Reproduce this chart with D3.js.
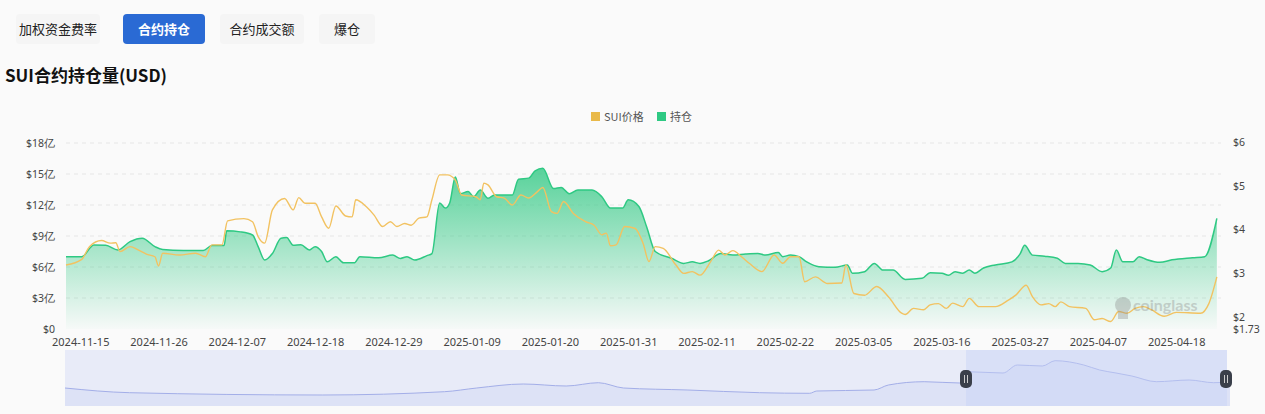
<!DOCTYPE html>
<html><head><meta charset="utf-8">
<script src="https://cdn.jsdelivr.net/npm/d3@7/dist/d3.min.js"></script>
<style>body{margin:0;background:#fafafa;font-family:"Noto Sans CJK SC","Noto Sans",sans-serif;}</style>
</head><body><svg id="c" width="1265" height="414"></svg>
<script>
const startDate = new Date(2024,10,13);
const tabs = ["加权资金费率","合约持仓","合约成交额","爆仓"];
const tickDates = ["2024-11-15","2024-11-26","2024-12-07","2024-12-18","2024-12-29","2025-01-09","2025-01-20","2025-01-31","2025-02-11","2025-02-22","2025-03-05","2025-03-16","2025-03-27","2025-04-07","2025-04-18"];
const leftTicks = [0,3,6,9,12,15,18];
const rightTicks = [1.73,2,3,4,5,6];
// open interest (亿 USD): day offset from start, value
const oiDays = [0,2.2,3.9,5.6,7.3,9,10.7,12.5,13.6,16.5,19.3,20.5,22.2,22.6,24.5,26.2,27,27.9,29,30.2,31,31.9,33,34.2,35,35.9,36.7,37.9,39,40.5,41.3,43.9,45.9,47,47.9,49,50.7,51.4,52.5,53.3,53.9,54.7,55.4,56.5,57.3,58.2,59.3,60.2,62.7,63.6,65,65.9,67,68.5,69.6,70.7,71.9,73.9,75.3,76.5,78.2,79,80.5,81.6,82.8,85.1,86.8,88,89.1,90.3,92,93.7,95.5,97.2,98.3,100.1,100.7,101.8,103,104.1,105.8,108.1,109.8,110.5,112.2,113.6,114.8,116.2,117.9,120.3,121.4,123.1,124,124.9,126,126.9,127.7,128.9,130.6,132.9,134.1,134.7,135.8,137.5,139.3,140.4,142.2,143.9,145.6,146.8,147.6,148.5,149.9,150.8,151.9,153.7,155.4,158.3,160,161.7];
const oiValues = [7.0,7.0,8.13,8.1,7.65,8.45,8.78,7.97,7.7,7.6,7.6,8.07,8.07,9.5,9.4,9.1,7.97,6.68,7.3,8.78,8.85,8.1,8.15,7.65,7.97,7.5,6.5,7.0,6.4,6.4,7.0,6.9,7.15,6.83,7.0,6.68,7.1,7.3,12.2,11.7,12.2,14.7,13.1,13.3,12.8,13.45,12.65,12.97,12.97,14.5,14.6,15.3,15.55,13.6,13.7,13.1,13.45,13.45,12.8,11.7,11.7,12.5,11.85,9.9,7.5,6.85,6.35,6.5,6.35,6.6,7.3,7.15,7.25,7.3,7.15,7.4,7.0,7.15,7.0,6.5,6.03,5.97,6.2,5.4,5.55,6.35,5.7,5.7,4.8,4.9,5.45,5.4,5.2,5.55,5.4,5.7,5.4,5.9,6.2,6.5,7.3,8.1,7.15,7.05,6.85,6.35,6.35,6.2,5.55,5.9,7.65,6.5,6.5,7.0,6.7,6.45,6.7,6.9,7.0,10.7];
// SUI price (USD)
const priceDays = [0,2.2,3.3,5,6.2,7,7.6,9,10.2,11.3,12.5,13,13.6,15.9,18.2,19.6,20.5,21.9,22.7,25,26.2,27,27.9,29,30.7,31.9,32.7,33.6,35,35.9,36.9,37.9,39.3,40.2,40.7,42.2,43.3,44.5,45.6,46.5,47.6,48.5,49.6,50.7,51.4,52.5,53.6,54.7,55.6,57.6,58.2,58.7,59.3,60.5,61.6,62.7,63.9,65,66.2,67,68.2,69,69.9,71.3,73,74.2,75.3,75.9,76.5,77.3,78.5,79.9,81.1,81.9,82.8,83.9,85.7,86.8,88,89.1,90.6,91.7,92.6,93.7,94.9,96,97.8,99.5,100.7,101.8,103,103.8,105.3,107,109,109.6,110.7,112.2,113.9,115.6,117.4,117.9,119.1,120.5,121.4,122.6,123.7,124.6,126,126.9,128.3,130.6,132.4,133.5,134.9,135.8,137,138.1,139,139.8,141,143.3,144.5,145.6,146.8,147.9,149.1,150.2,151.4,152.5,154.3,156,159.4,160.6,161.7];
const priceValues = [3.19,3.32,3.61,3.75,3.69,3.70,3.50,3.61,3.53,3.44,3.38,3.17,3.46,3.42,3.46,3.38,3.65,3.65,4.20,4.25,4.18,3.84,3.69,4.45,4.71,4.45,4.73,4.60,4.60,4.29,4.03,4.54,4.31,4.29,4.68,4.52,4.33,4.07,4.18,4.07,4.14,4.10,4.26,4.29,4.68,5.25,5.25,5.13,4.79,4.75,4.68,5.06,5.02,4.75,4.72,4.56,4.79,4.72,4.86,4.96,4.41,4.37,4.64,4.37,4.18,4.10,3.88,3.92,3.63,3.65,4.07,4.03,3.69,3.27,3.61,3.57,3.19,3.00,3.04,2.96,3.27,3.53,3.42,3.52,3.38,3.23,3.04,3.42,3.23,3.38,3.38,2.81,2.92,2.77,2.78,3.19,2.54,2.50,2.70,2.46,2.09,2.06,2.20,2.17,2.28,2.31,2.20,2.32,2.24,2.43,2.24,2.24,2.39,2.51,2.73,2.47,2.28,2.31,2.24,2.35,2.24,2.20,1.94,1.97,1.90,2.13,2.09,2.20,2.24,2.17,2.02,2.11,2.09,2.31,2.92];
// data zoom overview series (relative units)
const miniDays = [0,9,36,53,57.5,64,70,74.5,78,87,97,104,105,113,115,120,125,126,131,133,136.5,138.3,142.3,144.5,146.8,149,152.4,157,160.4,162.7];
const miniValues = [18,13.3,11,14.3,18,22,20,23.3,18,16,13.3,12.7,15,16,21,24.3,23,34.3,33,41,40,45.3,41,36,33,30,24.3,26,23.3,24];

const svg = d3.select("#c");
const day = d => d3.timeHour.offset(startDate, Math.round(d*24));
const endDate = day(162.3);
const x = d3.scaleTime().domain([startDate, endDate]).range([66,1221]);
const yL = d3.scaleLinear().domain([0,18]).range([329,143]);
const yR = d3.scaleLinear().domain([1.73,6]).range([329,142]);

// tabs
const tabX=[58,164,262,347], tabW=[84,82,84,56];
tabs.forEach((t,i)=>{
  const act=i===1;
  svg.append("rect").attr("x",tabX[i]-tabW[i]/2).attr("y",14).attr("width",tabW[i]).attr("height",30).attr("rx",4)
    .attr("fill",act?"#2a6ad4":"#f5f5f5");
  svg.append("text").attr("x",tabX[i]).attr("y",34).attr("text-anchor","middle").attr("font-size",13)
    .attr("font-weight",act?"bold":"normal").attr("fill",act?"#fff":"#222").text(t);
});
svg.append("text").attr("x",5).attr("y",82).attr("font-size",17).attr("font-weight","bold").attr("fill","#111").text("SUI合约持仓量(USD)");

// legend
svg.append("rect").attr("x",591).attr("y",112).attr("width",9).attr("height",9).attr("fill","#e9b949");
svg.append("text").attr("x",604).attr("y",121).attr("font-size",11).attr("fill","#555").text("SUI价格");
svg.append("rect").attr("x",657).attr("y",112).attr("width",9).attr("height",9).attr("fill","#2ec983");
svg.append("text").attr("x",670).attr("y",121).attr("font-size",11).attr("fill","#555").text("持仓");

// grid
leftTicks.slice(1).forEach(v=>{
  svg.append("line").attr("x1",66).attr("x2",1221).attr("y1",yL(v)).attr("y2",yL(v))
    .attr("stroke","#e6e6e6").attr("stroke-dasharray","4,4");
});
const axisFont = "'Noto Sans','DejaVu Sans',sans-serif";
const gL = svg.append("g").attr("transform","translate(60,0)")
  .call(d3.axisLeft(yL).tickValues(leftTicks).tickSize(0).tickFormat(v=>v===0?"$0":"$"+v+"亿"));
const gR = svg.append("g").attr("transform","translate(1228,0)")
  .call(d3.axisRight(yR).tickValues(rightTicks).tickSize(0).tickFormat(v=>"$"+v));
const gX = svg.append("g").attr("transform","translate(0,335)")
  .call(d3.axisBottom(x).tickValues(tickDates.map(s=>d3.timeParse("%Y-%m-%d")(s))).tickSize(0).tickFormat(d3.timeFormat("%Y-%m-%d")));
[gL,gR,gX].forEach(g=>{g.select(".domain").remove();g.selectAll("text").attr("font-size",10.5).attr("fill","#444").attr("font-family",axisFont);});
gX.selectAll("text").attr("font-size",11);
gL.selectAll("text").attr("dx",-2);
gR.selectAll("text").attr("dx",2);
gX.selectAll("text").attr("dy",8);

// gradient
const defs = svg.append("defs");
const gr = defs.append("linearGradient").attr("id","g").attr("gradientUnits","userSpaceOnUse").attr("x1",0).attr("x2",0).attr("y1",yL(15.5)).attr("y2",329);
gr.append("stop").attr("offset",0).attr("stop-color","#3ccb8a").attr("stop-opacity",0.85);
gr.append("stop").attr("offset",1).attr("stop-color","#3ccb8a").attr("stop-opacity",0.02);

const oi = oiDays.map((d,i)=>({d:day(d),v:oiValues[i]}));
const pr = priceDays.map((d,i)=>({d:day(d),v:priceValues[i]}));
svg.append("path").datum(oi).attr("fill","url(#g)")
  .attr("d",d3.area().x(p=>x(p.d)).y0(329).y1(p=>yL(p.v)).curve(d3.curveMonotoneX));
svg.append("path").datum(oi).attr("fill","none").attr("stroke","#2ec983").attr("stroke-width",1.5)
  .attr("d",d3.line().x(p=>x(p.d)).y(p=>yL(p.v)).curve(d3.curveMonotoneX));
svg.append("path").datum(pr).attr("fill","none").attr("stroke","#f2c261").attr("stroke-width",1.4)
  .attr("d",d3.line().x(p=>x(p.d)).y(p=>yR(p.v)).curve(d3.curveMonotoneX));

// watermark
const wm = svg.append("g").attr("opacity",0.35);
wm.append("circle").attr("cx",1123).attr("cy",305).attr("r",8).attr("fill","#888");
wm.append("rect").attr("x",1118).attr("y",310).attr("width",10).attr("height",9).attr("fill","#888");
wm.append("text").attr("x",1133).attr("y",311).attr("font-size",16).attr("font-weight","bold").attr("fill","#888").attr("font-family","Lato,sans-serif").text("coinglass");

// data zoom
const xm = d3.scaleTime().domain([startDate,endDate]).range([65,1227]);
const ym = d3.scaleLinear().domain([0,50]).range([406,356]);
svg.append("rect").attr("x",65).attr("y",350).attr("width",1162).attr("height",56).attr("fill","#e8ebf8");
const mini = miniDays.map((d,i)=>({d:day(d),v:miniValues[i]}));
svg.append("path").datum(mini).attr("fill","#dde2f6")
  .attr("d",d3.area().x(p=>xm(p.d)).y0(406).y1(p=>ym(p.v)).curve(d3.curveMonotoneX));
svg.append("path").datum(mini).attr("fill","none").attr("stroke","#a3aee8").attr("stroke-width",1)
  .attr("d",d3.line().x(p=>xm(p.d)).y(p=>ym(p.v)).curve(d3.curveMonotoneX));
svg.append("rect").attr("x",966).attr("y",350).attr("width",261).attr("height",56).attr("fill","#c7d2f7").attr("opacity",0.45);
[966,1226].forEach(hx=>{
  svg.append("rect").attr("x",hx-6).attr("y",370).attr("width",12).attr("height",18).attr("rx",5).attr("fill","#3a3f4a");
  svg.append("line").attr("x1",hx-1.5).attr("x2",hx-1.5).attr("y1",375).attr("y2",383).attr("stroke","#ccc");
  svg.append("line").attr("x1",hx+1.5).attr("x2",hx+1.5).attr("y1",375).attr("y2",383).attr("stroke","#ccc");
});
</script></body></html>
